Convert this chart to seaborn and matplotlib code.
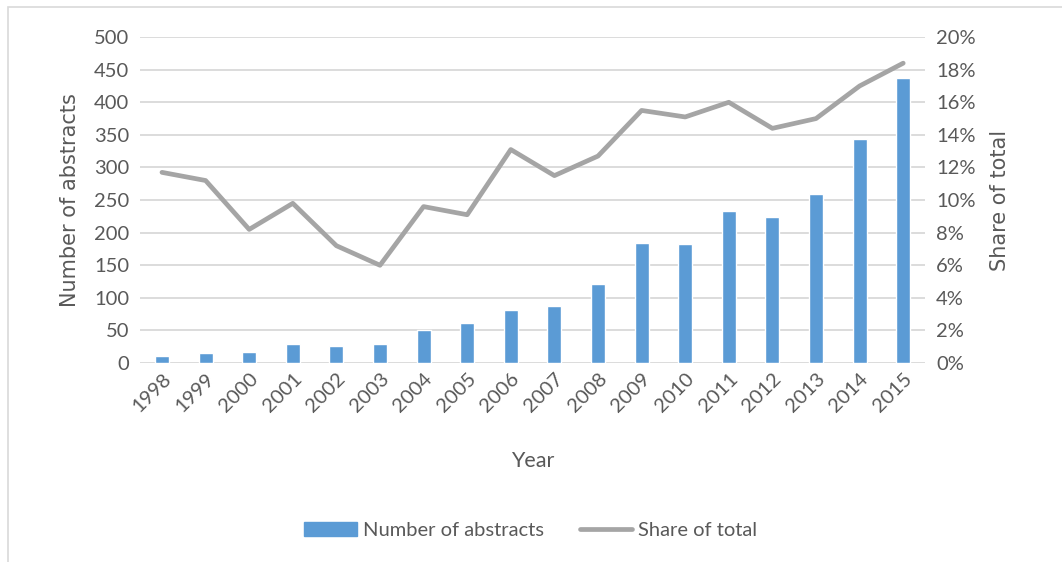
import numpy as np
import pandas as pd
import matplotlib
matplotlib.use("Agg")
import matplotlib.pyplot as plt
import matplotlib.ticker as mticker
from matplotlib.patches import Rectangle
from matplotlib.lines import Line2D
from matplotlib.patches import Patch
import seaborn as sns

years = ["1998", "1999", "2000", "2001", "2002", "2003", "2004", "2005", "2006",
         "2007", "2008", "2009", "2010", "2011", "2012", "2013", "2014", "2015"]
n_abstracts = [11, 15, 17, 29, 26, 29, 50, 61, 81, 87, 122, 184, 183, 233, 224, 260, 343, 438]
share_total = [0.117, 0.112, 0.082, 0.098, 0.072, 0.060, 0.096, 0.091, 0.131,
               0.115, 0.127, 0.155, 0.151, 0.160, 0.144, 0.150, 0.170, 0.184]

df = pd.DataFrame({"year": years, "n": n_abstracts, "share": share_total})
df["pos"] = np.arange(len(df))

sns.set_style("white")
plt.rcParams["font.family"] = ["Lato", "DejaVu Sans"]

TXT = "#595959"
BAR = "#5B9BD5"
LINE = "#A5A5A5"
GRID = "#D9D9D9"

fig = plt.figure(figsize=(10.62, 5.62), dpi=100)
ax = fig.add_axes([0.132, 0.354, 0.739, 0.580])

sns.barplot(data=df, x="year", y="n", color=BAR, width=0.32, saturation=1, ax=ax)
ax.set_ylim(0, 500)
ax.set_yticks(np.arange(0, 501, 50))
ax.yaxis.grid(True, color=GRID, linewidth=1.3)
ax.set_axisbelow(True)
ax.set_xlim(-0.5, len(years) - 0.5)
for s in ax.spines.values():
    s.set_visible(False)
ax.tick_params(axis="both", length=0, labelsize=14.5, labelcolor=TXT, pad=8)
ax.tick_params(axis="x", pad=5)
plt.setp(ax.get_xticklabels(), rotation=45, ha="right", rotation_mode="anchor")
ax.set_xlabel("Year", fontsize=15.5, color=TXT, labelpad=26)
ax.set_ylabel("Number of abstracts", fontsize=15, color=TXT, labelpad=10,
              family=["DejaVu Sans"])

ax2 = ax.twinx()
sns.lineplot(data=df, x="pos", y="share", color=LINE, linewidth=3.4, ax=ax2)
ax2.set_ylim(0, 0.20)
ax2.set_yticks(np.arange(0, 0.201, 0.02))
ax2.yaxis.set_major_formatter(mticker.PercentFormatter(1.0, decimals=0))
ax2.set_xlim(-0.5, len(years) - 0.5)
for s in ax2.spines.values():
    s.set_visible(False)
ax2.tick_params(axis="y", length=0, labelsize=14.5, labelcolor=TXT, pad=8)
ax2.set_ylabel("Share of total", fontsize=15, color=TXT, labelpad=10,
               family=["DejaVu Sans"])
ax2.set_xlabel("")
ax2.grid(False)

handles = [Patch(facecolor=BAR, edgecolor=BAR),
           Line2D([0], [0], color=LINE, linewidth=3.4)]
fig.legend(handles, ["Number of abstracts", "Share of total"], loc="center",
           bbox_to_anchor=(0.5, 0.056), ncol=2, frameon=False, fontsize=14.5,
           labelcolor=TXT, handlelength=2.6, columnspacing=1.8, handletextpad=0.3)

fig.patches.append(Rectangle((0.008, -0.01), 1.0, 0.997, transform=fig.transFigure,
                             fill=False, edgecolor=GRID, linewidth=1.2))

plt.savefig("out.png", dpi=100)
plt.close()
